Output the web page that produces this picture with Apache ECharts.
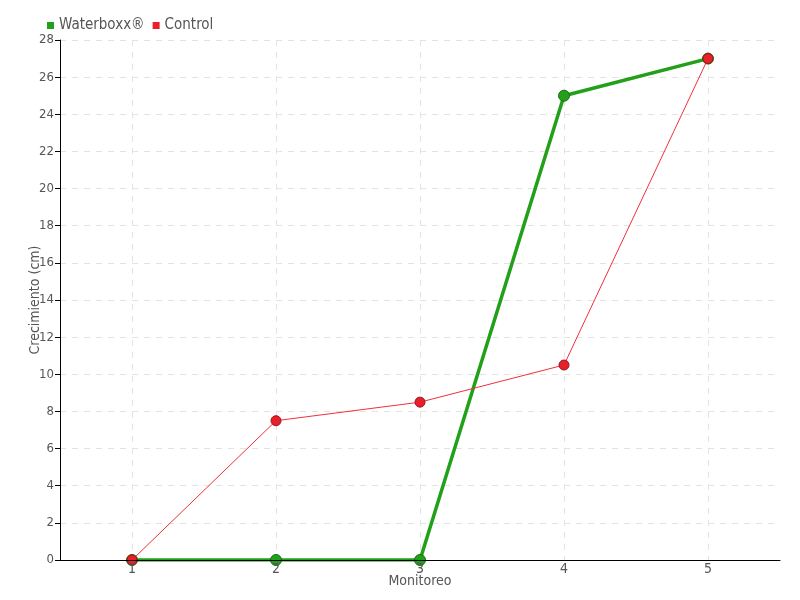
<!DOCTYPE html>
<html><head><meta charset="utf-8">
<script src="https://cdn.jsdelivr.net/npm/echarts@6/dist/echarts.min.js"></script>
<style>html,body{margin:0;padding:0;background:#fff}#c{width:800px;height:600px}</style>
</head><body><div id="c"></div>
<script>
const categories = ['1','2','3','4','5'];
const waterboxx = [0, 0, 0, 25, 27];
const control = [0, 7.5, 8.5, 10.5, 27];
const yTicks = {min: 0, max: 28, interval: 2};
// half-step positions used only for vertical grid lines at category centres
const halfSteps = ['0.5','1','1.5','2','2.5','3','3.5','4','4.5','5','5.5'];

const font = '"Liberation Sans Narrow", "DejaVu Sans Condensed", sans-serif';
const chart = echarts.init(document.getElementById('c'));
chart.setOption({
  animation: false,
  textStyle: {fontFamily: font},
  legend: {
    left: 42, top: 13, itemWidth: 7, itemHeight: 7, itemGap: 8, icon: 'rect',
    itemStyle: {borderWidth: 0},
    textStyle: {fontSize: 15, color: '#555', fontFamily: font},
    data: ['Waterboxx®', 'Control']
  },
  grid: {left: 60, right: 20, top: 40, bottom: 40, outerBoundsMode: 'none', containLabel: false},
  xAxis: [{
    type: 'category', data: categories, boundaryGap: true,
    name: 'Monitoreo', nameLocation: 'middle', nameGap: 14, nameMoveOverlap: false,
    nameTextStyle: {fontSize: 14, color: '#555'},
    axisLine: {lineStyle: {color: '#000', width: 1}},
    axisTick: {alignWithLabel: true, length: 4, lineStyle: {color: '#333'}},
    axisLabel: {fontSize: 14, color: '#555', margin: 2},
    splitLine: {show: false}, z: 5
  }, {
    type: 'category', data: halfSteps, boundaryGap: false, position: 'bottom',
    axisLine: {show: false}, axisTick: {show: false}, axisLabel: {show: false},
    splitLine: {show: true, interval: function (i) { return i % 2 === 1; },
      lineStyle: {type: [6, 6], color: '#e3e3e3'}}
  }],
  yAxis: {
    type: 'value', min: yTicks.min, max: yTicks.max, interval: yTicks.interval,
    name: 'Crecimiento (cm)', nameLocation: 'middle', nameGap: 18, nameMoveOverlap: false,
    nameTextStyle: {fontSize: 14, color: '#555'},
    axisLine: {show: true, lineStyle: {color: '#000', width: 1}},
    axisTick: {show: true, length: 5, lineStyle: {color: '#000'}},
    axisLabel: {fontSize: 13, color: '#555', margin: 6},
    splitLine: {show: true, lineStyle: {type: [6, 6], color: '#e3e3e3'}}
  },
  series: [
    {
      name: 'Waterboxx®', type: 'line', data: waterboxx,
      symbol: 'circle', symbolSize: 11,
      lineStyle: {color: '#22a01a', width: 3.5},
      itemStyle: {color: '#22a01a', borderColor: '#1a6d14', borderWidth: 1},
      z: 2
    },
    {
      name: 'Control', type: 'line', data: control,
      symbol: 'circle', symbolSize: 10,
      lineStyle: {color: '#f0303c', width: 1},
      itemStyle: {color: '#e8202c', borderColor: '#a01018', borderWidth: 1},
      z: 3
    }
  ]
});
</script></body></html>
